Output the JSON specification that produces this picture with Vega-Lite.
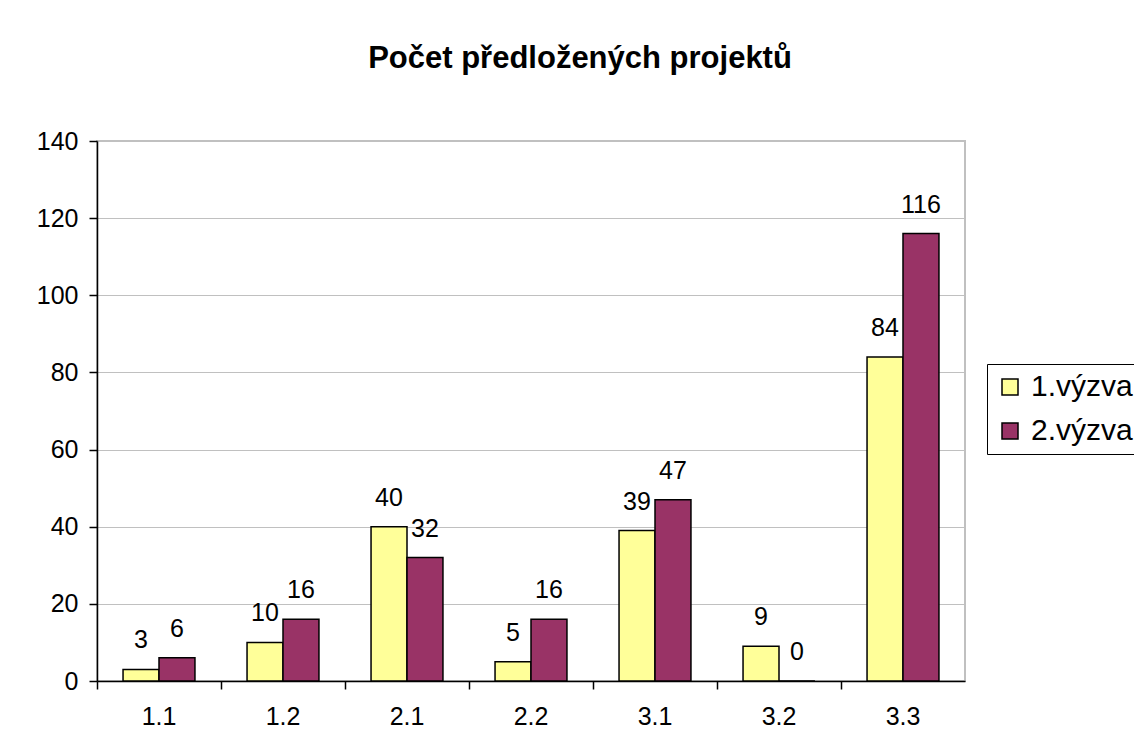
{
  "$schema": "https://vega.github.io/schema/vega-lite/v6.json",
  "width": 868,
  "height": 540,
  "autosize": "none",
  "padding": {"left": 97, "top": 141, "right": 169, "bottom": 72},
  "background": "white",
  "title": {
    "text": "Počet předložených projektů",
    "font": "Liberation Sans",
    "fontSize": 31,
    "fontWeight": "bold",
    "color": "black",
    "anchor": "middle",
    "frame": "group",
    "dx": 49,
    "offset": 30,
    "baseline": "alphabetic"
  },
  "data": {
    "values": [
      {"kategorie": "1.1", "vyzva": "1.výzva", "pocet": 3},
      {"kategorie": "1.1", "vyzva": "2.výzva", "pocet": 6},
      {"kategorie": "1.2", "vyzva": "1.výzva", "pocet": 10},
      {"kategorie": "1.2", "vyzva": "2.výzva", "pocet": 16},
      {"kategorie": "2.1", "vyzva": "1.výzva", "pocet": 40},
      {"kategorie": "2.1", "vyzva": "2.výzva", "pocet": 32},
      {"kategorie": "2.2", "vyzva": "1.výzva", "pocet": 5},
      {"kategorie": "2.2", "vyzva": "2.výzva", "pocet": 16},
      {"kategorie": "3.1", "vyzva": "1.výzva", "pocet": 39},
      {"kategorie": "3.1", "vyzva": "2.výzva", "pocet": 47},
      {"kategorie": "3.2", "vyzva": "1.výzva", "pocet": 9},
      {"kategorie": "3.2", "vyzva": "2.výzva", "pocet": 0},
      {"kategorie": "3.3", "vyzva": "1.výzva", "pocet": 84},
      {"kategorie": "3.3", "vyzva": "2.výzva", "pocet": 116}
    ]
  },
  "encoding": {
    "x": {
      "field": "kategorie",
      "type": "nominal",
      "sort": null,
      "title": null,
      "scale": {"paddingInner": 0.42, "paddingOuter": 0.21},
      "axis": {
        "labelAngle": 0,
        "bandPosition": -0.361,
        "ticks": true,
        "tickSize": 8,
        "tickColor": "black",
        "domainColor": "black",
        "labelFontSize": 25,
        "labelPadding": 15,
        "grid": false
      }
    },
    "xOffset": {"field": "vyzva", "type": "nominal", "sort": null},
    "y": {
      "field": "pocet",
      "type": "quantitative",
      "scale": {"domain": [0, 140], "nice": false},
      "axis": {
        "values": [0, 20, 40, 60, 80, 100, 120, 140],
        "title": null,
        "grid": true,
        "gridColor": "#c0c0c0",
        "tickSize": 8,
        "tickColor": "black",
        "domainColor": "black",
        "labelFontSize": 25,
        "labelPadding": 11
      }
    }
  },
  "layer": [
    {
      "mark": {"type": "bar", "stroke": "black", "strokeWidth": 1.5},
      "encoding": {
        "color": {
          "field": "vyzva",
          "type": "nominal",
          "scale": {"domain": ["1.výzva", "2.výzva"], "range": ["#FFFF99", "#993366"]},
          "legend": {
            "orient": "none",
            "legendX": 890,
            "legendY": 223,
            "title": null,
            "strokeColor": "black",
            "fillColor": "white",
            "padding": 8,
            "symbolType": "square",
            "symbolSize": 256,
            "symbolStrokeColor": "black",
            "symbolStrokeWidth": 1.5,
            "labelFontSize": 30,
            "labelFont": "Liberation Sans",
            "labelColor": "black",
            "labelOffset": 6,
            "rowPadding": 14
          }
        }
      }
    },
    {
      "mark": {"type": "text", "baseline": "bottom", "dy": -16, "font": "Liberation Sans", "fontSize": 25, "color": "black"},
      "encoding": {"text": {"field": "pocet", "type": "quantitative"}}
    }
  ],
  "config": {
    "view": {"stroke": "#c0c0c0", "strokeWidth": 2},
    "axis": {"labelFont": "Liberation Sans", "labelColor": "black", "domainWidth": 1.5, "tickWidth": 1.5}
  }
}
